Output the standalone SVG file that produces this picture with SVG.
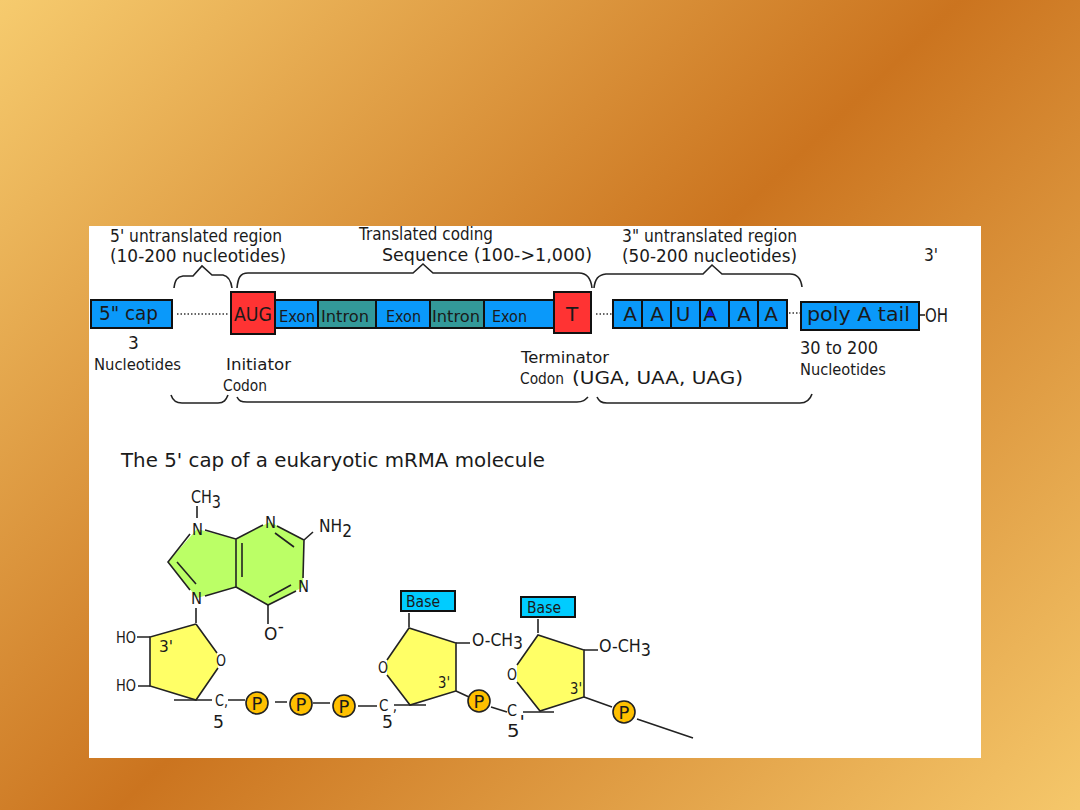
<svg xmlns="http://www.w3.org/2000/svg" width="1080" height="810" viewBox="0 0 1080 810">
<style>
text{font-family:"DejaVu Sans","Liberation Sans",sans-serif;fill:#1a1a1a;font-size:17px}
.s{font-size:16px}.l{font-size:20px}.m{font-size:18px}
.box{stroke:#111;stroke-width:2}
.blue{fill:#0a99fa}.teal{fill:#339999}.red{fill:#ff3333}.cyan{fill:#00ccff}
.ln{fill:none;stroke:#222;stroke-width:1.6}
.dot{fill:none;stroke:#333;stroke-width:1.5;stroke-dasharray:1.5 2}
.p{fill:#ffc000;stroke:#222;stroke-width:1.6}
.c{text-anchor:middle}
</style>
<defs>
<linearGradient id="bg" gradientUnits="userSpaceOnUse" x1="0" y1="0" x2="920" y2="960">
<stop offset="0" stop-color="#f6cb6e"/><stop offset="0.5" stop-color="#cb741f"/><stop offset="1" stop-color="#f5c76a"/>
</linearGradient>
</defs>
<rect width="1080" height="810" fill="url(#bg)"/>
<rect x="89" y="226" width="892" height="532" fill="#fff"/>

<g id="connectors">
<path class="dot" d="M177 314H228M596 314H613M789 313H801"/>
<path class="ln" d="M919 315H925"/>
<!-- braces above the strand -->
<path class="ln" d="M174 288C175 280 177 277 183 276H193L202 266L212 275H223C228 276 231 281 232 288"/>
<path class="ln" d="M237 288C238 278 240 273 248 273H413L423 264L433 273H579C587 273 591 279 592 288"/>
<path class="ln" d="M594 288C595 279 598 275 606 274H703L712 265L722 274H790C797 274 801 279 802 287"/>
<!-- braces below the strand -->
<path class="ln" d="M171 395C173 401 176 403 182 403H218C224 403 226 400 228 395"/>
<path class="ln" d="M237 397C239 401 241 402 247 402H577C583 402 585 400 588 397"/>
<path class="ln" d="M597 397C599 401 601 403 607 403H800C806 403 810 400 812 394"/>
<!-- bonds of the cap chain -->
<path class="ln" d="M197 506V518M313 532L304 540M268 605V624M196 608V623M137 637H150M138 686H150M174 700H212M228 700H245M275 702H287M313 703H330M358 706H377"/>
<path class="ln" d="M409 613V627M456 643H470M394 705H426M456 691L469 697M491 707L507 712M523 712H554M538 619V633M584 650H598M584 697L612 707M637 719L693 738"/>
</g>

<g id="labels-top">
<text x="110" y="242" textLength="172" lengthAdjust="spacingAndGlyphs">5' untranslated region</text>
<text x="110" y="262" textLength="176" lengthAdjust="spacingAndGlyphs">(10-200 nucleotides)</text>
<text x="359" y="240" textLength="134" lengthAdjust="spacingAndGlyphs">Translated coding</text>
<text x="382" y="261" textLength="210" lengthAdjust="spacingAndGlyphs">Sequence (100-&gt;1,000)</text>
<text x="622" y="242" textLength="175" lengthAdjust="spacingAndGlyphs">3" untranslated region</text>
<text x="622" y="262" textLength="175" lengthAdjust="spacingAndGlyphs">(50-200 nucleotides)</text>
<text x="924" y="261" textLength="14" lengthAdjust="spacingAndGlyphs">3'</text>
</g>

<g id="cap"><rect class="box blue" x="91" y="300" width="81" height="28"/>
<text class="l" x="99" y="320" textLength="59" lengthAdjust="spacingAndGlyphs">5" cap</text></g>
<g id="coding-bar">
<rect class="box blue" x="275" y="300" width="279" height="28"/>
<rect class="box teal" x="318" y="300" width="58" height="28"/>
<rect class="box teal" x="430" y="300" width="54" height="28"/>
<text class="s" x="279" y="322" textLength="36" lengthAdjust="spacingAndGlyphs">Exon</text>
<text class="s" x="321" y="322" textLength="48" lengthAdjust="spacingAndGlyphs">Intron</text>
<text class="s" x="386" y="322" textLength="35" lengthAdjust="spacingAndGlyphs">Exon</text>
<text class="s" x="432" y="322" textLength="48" lengthAdjust="spacingAndGlyphs">Intron</text>
<text class="s" x="492" y="322" textLength="35" lengthAdjust="spacingAndGlyphs">Exon</text>
</g>
<g id="aug"><rect class="box red" x="231" y="292" width="44" height="42"/>
<text class="l" x="234" y="321" textLength="38" lengthAdjust="spacingAndGlyphs">AUG</text></g>
<g id="term"><rect class="box red" x="554" y="292" width="37" height="41"/>
<text class="l c" x="572" y="321">T</text></g>
<g id="signal">
<rect class="box blue" x="613" y="300" width="174" height="28"/>
<path class="box" fill="none" d="M642 300V328M671 300V328M700 300V328M729 300V328M758 300V328"/>
<text class="l c" x="630" y="321">A</text><text class="l c" x="657" y="321">A</text>
<text class="l c" x="683" y="321">U</text><text class="l c" x="710" y="321">A</text>
<text class="l c" x="744" y="321">A</text><text class="l c" x="771" y="321">A</text>
<path fill="#1414d8" d="M710 309L714 316H706Z"/>
</g>
<g id="polya"><rect class="box blue" x="801" y="302" width="118" height="28"/>
<text class="l" x="807" y="321" textLength="103" lengthAdjust="spacingAndGlyphs">poly A tail</text></g>
<text class="l" x="925" y="322" textLength="23" lengthAdjust="spacingAndGlyphs">OH</text>

<g id="labels-bottom">
<text x="128" y="349">3</text>
<text class="s" x="94" y="370" textLength="87" lengthAdjust="spacingAndGlyphs">Nucleotides</text>
<text class="s" x="226" y="370" textLength="65" lengthAdjust="spacingAndGlyphs">Initiator</text>
<text class="s" x="223" y="391" textLength="44" lengthAdjust="spacingAndGlyphs">Codon</text>
<text class="s" x="521" y="363" textLength="88" lengthAdjust="spacingAndGlyphs">Terminator</text>
<text class="s" x="520" y="384" textLength="44" lengthAdjust="spacingAndGlyphs">Codon</text>
<text class="m" x="572" y="384" textLength="171" lengthAdjust="spacingAndGlyphs">(UGA, UAA, UAG)</text>
<text x="800" y="354" textLength="78" lengthAdjust="spacingAndGlyphs">30 to 200</text>
<text class="s" x="800" y="375" textLength="86" lengthAdjust="spacingAndGlyphs">Nucleotides</text>
</g>

<text class="l" id="title" x="121" y="467" textLength="424" lengthAdjust="spacingAndGlyphs">The 5' cap of a eukaryotic mRMA molecule</text>

<g id="purine">
<path d="M197 529L168 562L197 598L236 587V539Z" fill="#bbff66"/>
<path d="M236 539L270 522L304 540L303 587L268 605L236 587Z" fill="#bbff66"/>
<path class="ln" d="M190 534L168 562L190 590M205 530L236 539V587L205 596M236 539L263 525M277 526L304 540L303 578M296 591L268 605L236 587"/>
<path class="ln" d="M242 543V577M275 533L294 547M269 597L291 585M177 562L196 584"/>
<text class="s" x="192" y="535" textLength="11" lengthAdjust="spacingAndGlyphs">N</text>
<text class="s" x="265" y="528" textLength="11" lengthAdjust="spacingAndGlyphs">N</text>
<text class="s" x="298" y="592" textLength="11" lengthAdjust="spacingAndGlyphs">N</text>
<text class="s" x="191" y="604" textLength="11" lengthAdjust="spacingAndGlyphs">N</text>
<text class="m" x="191" y="503" textLength="30" lengthAdjust="spacingAndGlyphs">CH<tspan dy="5">3</tspan></text>
<text class="m" x="319" y="532" textLength="33" lengthAdjust="spacingAndGlyphs">NH<tspan dy="5">2</tspan></text>
<text class="m" x="264" y="640" textLength="20" lengthAdjust="spacingAndGlyphs">O<tspan dy="-8">-</tspan></text>
</g>

<g id="sugar-1">
<path d="M196 624L217 653L218 668L196 700L150 686V637Z" fill="#ffff66"/>
<path class="ln" d="M196 624L217 653M218 668L196 700L150 686V637L196 624"/>
<text class="s" x="216" y="666" textLength="10" lengthAdjust="spacingAndGlyphs">O</text>
<text class="s" x="116" y="643" textLength="20" lengthAdjust="spacingAndGlyphs">HO</text>
<text class="s" x="116" y="691" textLength="20" lengthAdjust="spacingAndGlyphs">HO</text>
<text class="s" x="159" y="652" textLength="14" lengthAdjust="spacingAndGlyphs">3'</text>
<text class="s" x="215" y="706" textLength="13" lengthAdjust="spacingAndGlyphs">C,</text>
<text class="m" x="213" y="728" textLength="11" lengthAdjust="spacingAndGlyphs">5</text>
</g>

<g id="phosphates">
<circle class="p" cx="257" cy="703" r="11"/><text class="m c" x="257" y="710">P</text>
<circle class="p" cx="301" cy="704" r="11"/><text class="m c" x="301" y="711">P</text>
<circle class="p" cx="344" cy="706" r="11"/><text class="m c" x="344" y="713">P</text>
<text class="s" x="379" y="711" textLength="18" lengthAdjust="spacingAndGlyphs">C ,</text>
<text class="m" x="382" y="728" textLength="11" lengthAdjust="spacingAndGlyphs">5</text>
</g>

<g id="sugar-2">
<rect class="box cyan" x="401" y="591" width="54" height="20"/>
<text class="s" x="406" y="607" textLength="34" lengthAdjust="spacingAndGlyphs">Base</text>
<path d="M409 628L456 643V691L410 705L387 675V660Z" fill="#ffff66"/>
<path class="ln" d="M387 660L409 628L456 643V691L410 705L387 675"/>
<text class="s" x="378" y="673" textLength="10" lengthAdjust="spacingAndGlyphs">O</text>
<text class="s" x="438" y="688" textLength="12" lengthAdjust="spacingAndGlyphs">3'</text>
<text class="m" x="472" y="646" textLength="51" lengthAdjust="spacingAndGlyphs">O-CH<tspan dy="3">3</tspan></text>
<circle class="p" cx="479" cy="701" r="11"/><text class="m c" x="479" y="708">P</text>
</g>

<g id="sugar-3">
<rect class="box cyan" x="521" y="597" width="54" height="20"/>
<text class="s" x="527" y="613" textLength="34" lengthAdjust="spacingAndGlyphs">Base</text>
<path d="M538 635L584 650V697L540 711L517 682V665Z" fill="#ffff66"/>
<path class="ln" d="M517 665L538 635L584 650V697L540 711L517 682"/>
<text class="s" x="507" y="680" textLength="10" lengthAdjust="spacingAndGlyphs">O</text>
<text class="s" x="570" y="694" textLength="12" lengthAdjust="spacingAndGlyphs">3'</text>
<text class="m" x="599" y="652" textLength="52" lengthAdjust="spacingAndGlyphs">O-CH<tspan dy="4">3</tspan></text>
<text class="s" x="507" y="716" textLength="10" lengthAdjust="spacingAndGlyphs">C</text>
<text class="m" x="507" y="737" textLength="18" lengthAdjust="spacingAndGlyphs">5<tspan dy="-9">'</tspan></text>
<circle class="p" cx="624" cy="712" r="11"/><text class="m c" x="624" y="719">P</text>
</g>
</svg>
